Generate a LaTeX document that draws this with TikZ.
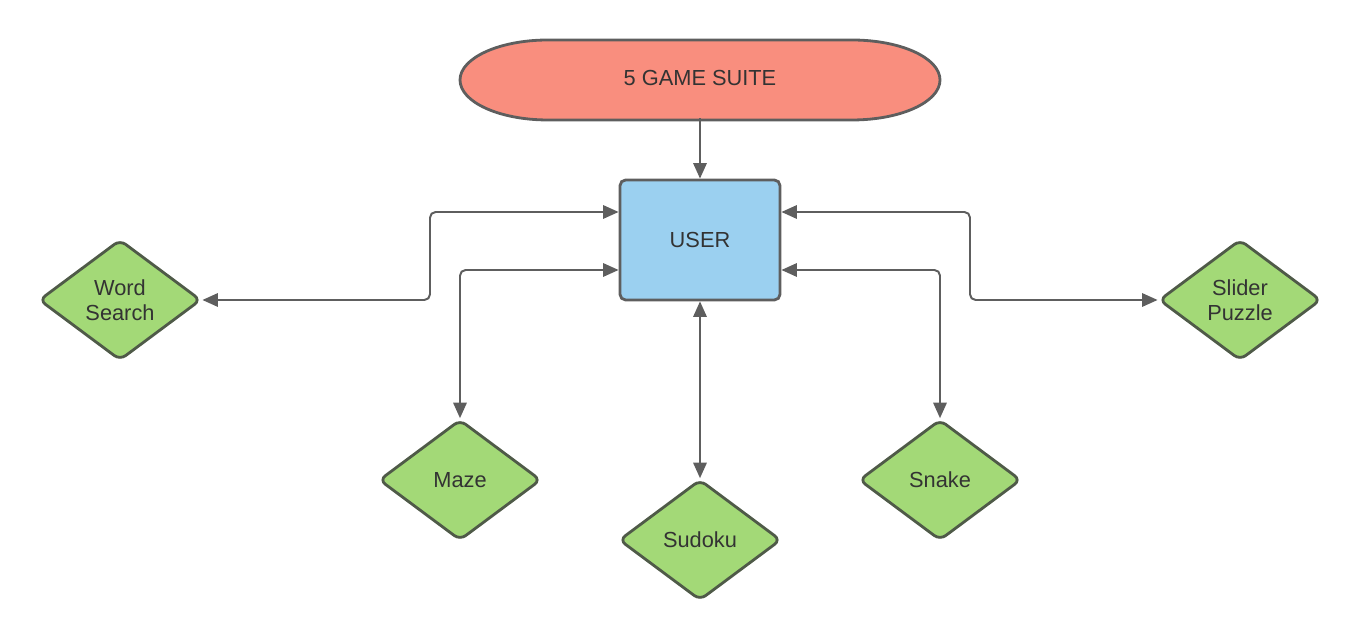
\documentclass[tikz,border=0pt]{standalone}
\usepackage{fontspec}
\setmainfont{Liberation Sans}
\usetikzlibrary{shapes.geometric,arrows.meta}

\definecolor{suitefill}{HTML}{F98E7E}
\definecolor{userfill}{HTML}{9BD0F0}
\definecolor{gamefill}{HTML}{A3D977}
\definecolor{edgegray}{HTML}{5E5E5E}
\definecolor{gameedge}{HTML}{4F5A48}
\definecolor{labeltext}{HTML}{333333}

\begin{document}
\begin{tikzpicture}[font=\fontsize{15.5}{18.5}\selectfont, text=labeltext]

      \useasboundingbox (0,0) rectangle (34,16);

      % stadium behind the title
      \draw[edgegray, fill=suitefill, line width=2pt]
        (13.7,15) -- (21.3,15) arc[start angle=90, end angle=-90, x radius=2.2cm, y radius=1cm]
        -- (13.7,13) arc[start angle=270, end angle=90, x radius=2.2cm, y radius=1cm] -- cycle;

      \node[minimum width=12cm, minimum height=2cm, inner sep=0] (suite) at (17.5,14.05) {5 GAME SUITE};

      \node[draw=edgegray, fill=userfill, line width=2pt, rounded corners=4pt,
            minimum width=4cm, minimum height=3cm] (user) at (17.5,10) {USER};

      \begin{scope}[every node/.style={diamond, draw=gameedge, fill=gamefill, line width=2pt,
          rounded corners=5pt, minimum width=4.05cm, minimum height=3.02cm, inner sep=0,
          align=center}]
        \node (word)   at (3,8.5)    {Word\\[-1pt]Search};
        \node (maze)   at (11.5,4)   {Maze};
        \node (sudoku) at (17.5,2.5) {Sudoku};
        \node (snake)  at (23.5,4)   {Snake};
        \node (slider) at (31,8.5)   {Slider\\[-1pt]Puzzle};
      \end{scope}

      \begin{scope}[edgegray, line width=1.4pt, rounded corners=4pt,
          >={Triangle[length=11pt, width=9.5pt]}]
        \draw[->]  (suite.south) -- (user.north);
        \draw[<->] ([yshift=7mm]user.west) -- (10.75,10.7) |- (word.east);
        \draw[<->] ([yshift=-7.5mm]user.west) -| (maze.north);
        \draw[<->] (user.south) -- (sudoku.north);
        \draw[<->] ([yshift=-7.5mm]user.east) -| (snake.north);
        \draw[<->] ([yshift=7mm]user.east) -- (24.25,10.7) |- (slider.west);
      \end{scope}

    \end{tikzpicture}
\end{document}
